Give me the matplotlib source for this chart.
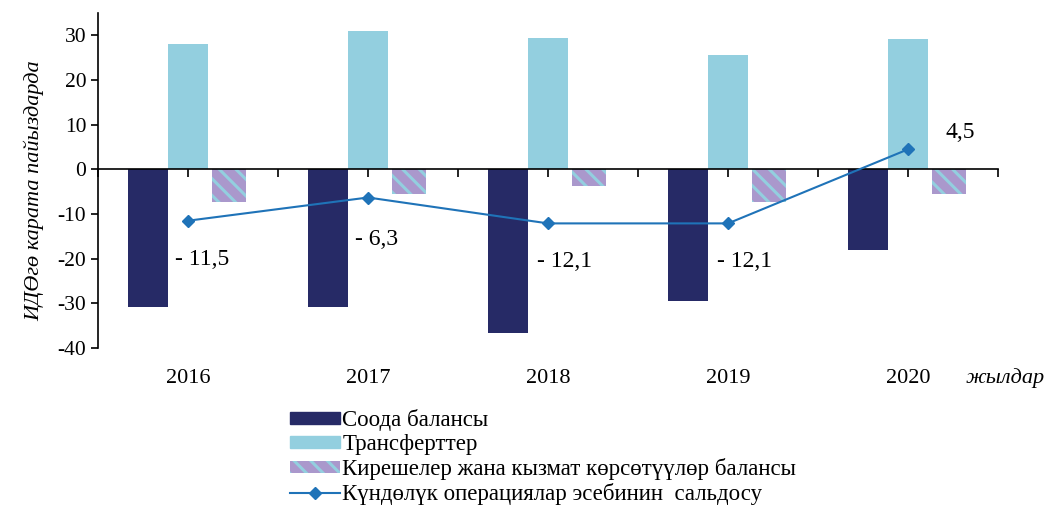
import numpy as np
import matplotlib.pyplot as plt
from matplotlib.patches import Patch
from matplotlib.lines import Line2D

plt.rcParams['font.family'] = ['Liberation Serif', 'DejaVu Serif']
plt.rcParams['axes.unicode_minus'] = False
plt.rcParams['hatch.linewidth'] = 2.2

years = ['2016', '2017', '2018', '2019', '2020']
trade = [-30.9, -30.9, -36.7, -29.5, -18.1]
transfers = [28.0, 30.9, 29.5, 25.7, 29.1]
income_services = [-7.2, -5.6, -3.8, -7.2, -5.6]
current_account = [-11.5, -6.3, -12.1, -12.1, 4.5]
ca_labels = ['- 11,5', '- 6,3', '- 12,1', '- 12,1', '4,5']

names = ['Соода балансы', 'Трансферттер',
         'Кирешелер жана кызмат көрсөтүүлөр балансы',
         'Күндөлүк операциялар эсебинин  сальдосу']

c_dark = '#262a66'
c_light = '#93cfdf'
c_purple = '#aa98cc'
c_line = '#1f73b8'

fig = plt.figure(figsize=(10.46, 5.05), dpi=100)
ax = fig.add_axes([0.0937, 0.311, 0.8605, 0.663])

x = np.arange(len(years))
w = 0.222
ax.bar(x - w, trade, w, color=c_dark, zorder=2)
ax.bar(x, transfers, w, color=c_light, zorder=2)
ax.bar(x + 0.228, income_services, 0.19, color=c_purple, edgecolor=c_light,
       hatch='\\\\', linewidth=0, zorder=2)
ax.plot(x, current_account, color=c_line, lw=1.5, marker='D', ms=6, zorder=3)

# value labels for the line
offsets = [(0.08, -8.6), (0.045, -9.4), (0.09, -8.5), (0.09, -8.5), (0.29, 3.8)]
for xi, yi, lab, (dx, dy) in zip(x, current_account, ca_labels, offsets):
    ax.text(xi + dx, yi + dy, lab, fontsize=17, ha='center', va='center')

ax.set_xlim(-0.5, 4.5)
ax.set_ylim(-40, 35)
ax.set_yticks(range(-40, 31, 10))
ax.tick_params(axis='y', labelsize=15.5, direction='out', length=5, width=1.2)

ax.spines['top'].set_visible(False)
ax.spines['right'].set_visible(False)
ax.spines['bottom'].set_position(('data', 0))
ax.spines['left'].set_linewidth(1.2)
ax.spines['bottom'].set_linewidth(1.2)
ax.set_xticks(np.arange(-0.5, 4.6, 0.5))
ax.set_xticklabels([])
ax.tick_params(axis='x', direction='out', length=6, width=1.2)

for xi, yr in zip(x, years):
    ax.text(xi, -0.09, yr, transform=ax.get_xaxis_transform(),
            fontsize=16, ha='center', va='center')
ax.text(4.54, -0.09, 'жылдар', transform=ax.get_xaxis_transform(),
        fontsize=16, style='italic', ha='center', va='center')

ax.set_ylabel('ИДӨгө карата пайыздарда', fontsize=16, style='italic')
ax.yaxis.set_label_coords(-0.06, 0.47)

handles = [Patch(color=c_dark), Patch(color=c_light),
           Patch(facecolor=c_purple, edgecolor=c_light, hatch='\\\\', lw=0),
           Line2D([], [], color=c_line, lw=1.5, marker='D', ms=6)]
fig.legend(handles, names, loc='upper left', bbox_to_anchor=(0.277, 0.19),
           frameon=False, fontsize=16.5, handlelength=2.2, handleheight=0.45,
           handletextpad=0.1, labelspacing=0.13, borderpad=0, borderaxespad=0)

fig.savefig('out.png', dpi=100)
